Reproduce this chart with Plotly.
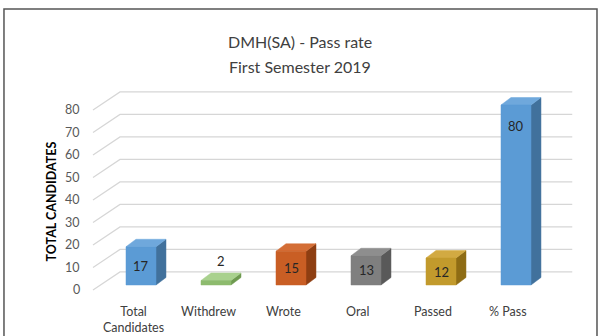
import plotly.graph_objects as go

# Chart data
categories = ["Total<br>Candidates", "Withdrew", "Wrote", "Oral", "Passed", "% Pass"]
values = [17, 2, 15, 13, 12, 80]
tick_values = [0, 10, 20, 30, 40, 50, 60, 70, 80]

# Face colours per bar: (front, top, side)
front_colors = ["#5B9BD5", "#8DBB6E", "#C95E24", "#7F7F7F", "#C29A2C", "#5B9BD5"]
top_colors = ["#6FA8DC", "#A9D18E", "#D46E36", "#8E8E8E", "#D2AA42", "#6FA8DC"]
side_colors = ["#41719C", "#6E9A50", "#8E3E12", "#595959", "#8E6C14", "#41719C"]

FONT = "Lato, 'Open Sans', sans-serif"
HALF_W = 0.2          # half bar width in category units
DX, DY = 0.133, 3.33  # depth offset of the 3D faces (x units, y units)
WALL_DX, WALL_DY = 0.36, 8.0   # back wall offset relative to the axis labels
LABEL_DY = -2.2

fig = go.Figure()

# Back-wall gridlines with the slanted side-wall segment
for v in tick_values:
    fig.add_trace(go.Scatter(
        x=[-0.64, -0.64 + WALL_DX, 5.75],
        y=[v + LABEL_DY, v + LABEL_DY + WALL_DY, v + LABEL_DY + WALL_DY],
        mode="lines", line=dict(color="#D6D6D6", width=1.2),
        hoverinfo="skip", showlegend=False))

# 3D bars: side, top and front faces
for i, v in enumerate(values):
    l, r = i - HALF_W, i + HALF_W
    side = ([r, r, r + DX, r + DX, r], [0, v, v + DY, DY, 0])
    top = ([l, r, r + DX, l + DX, l], [v, v, v + DY, v + DY, v])
    front = ([l, r, r, l, l], [0, 0, v, v, 0])
    for (xs, ys), col in ((side, side_colors[i]), (top, top_colors[i]), (front, front_colors[i])):
        fig.add_trace(go.Scatter(
            x=xs, y=ys, mode="lines", fill="toself", fillcolor=col,
            line=dict(color=col, width=0.5), hoverinfo="skip", showlegend=False))

annotations = []
# Data labels
for i, v in enumerate(values):
    if v < 5:
        annotations.append(dict(x=i + DX / 2, y=v + DY, text=str(v), showarrow=False,
                                yanchor="bottom", yshift=2,
                                font=dict(family=FONT, size=13, color="#262626")))
    else:
        annotations.append(dict(x=i, y=max(v / 2, v - 9.5), text=str(v), showarrow=False,
                                font=dict(family=FONT, size=13, color="#262626")))

# Y tick labels
for v in tick_values:
    annotations.append(dict(x=-0.79, y=v + LABEL_DY, text=str(v), showarrow=False,
                            xanchor="right", font=dict(family=FONT, size=12.5, color="#595959")))

# Category labels
for i, c in enumerate(categories):
    annotations.append(dict(x=i, xshift=-8, y=-0.01, yref="paper", text=c, showarrow=False,
                            yanchor="top", font=dict(family=FONT, size=12.5, color="#404040")))

# Axis title
annotations.append(dict(x=-0.034, xref="paper", y=0.45, yref="paper", text="<b>TOTAL CANDIDATES</b>",
                        textangle=-90, showarrow=False,
                        font=dict(family=FONT, size=12.5, color="#000000")))

# Chart title
annotations.append(dict(x=0.4528, xref="paper", y=1.227, yref="paper", text="DMH(SA) - Pass rate",
                        showarrow=False, font=dict(family=FONT, size=16, color="#404040")))
annotations.append(dict(x=0.4528, xref="paper", y=1.114, yref="paper", text="First Semester 2019",
                        showarrow=False, font=dict(family=FONT, size=16, color="#404040")))

fig.update_layout(
    width=601, height=336,
    margin=dict(l=60, r=11, t=80, b=36),
    paper_bgcolor="white", plot_bgcolor="white",
    xaxis=dict(range=[-1.08, 5.9867], visible=False, fixedrange=True),
    yaxis=dict(range=[-6.667, 91.11], visible=False, fixedrange=True),
    annotations=annotations,
    shapes=[dict(type="rect", xref="paper", yref="paper",
                 x0=-0.1057, x1=1.0132, y0=-0.3, y1=1.3227,
                 line=dict(color="#555555", width=1.5))],
    hovermode=False,
    showlegend=False,
)

fig.write_html("out.html")
